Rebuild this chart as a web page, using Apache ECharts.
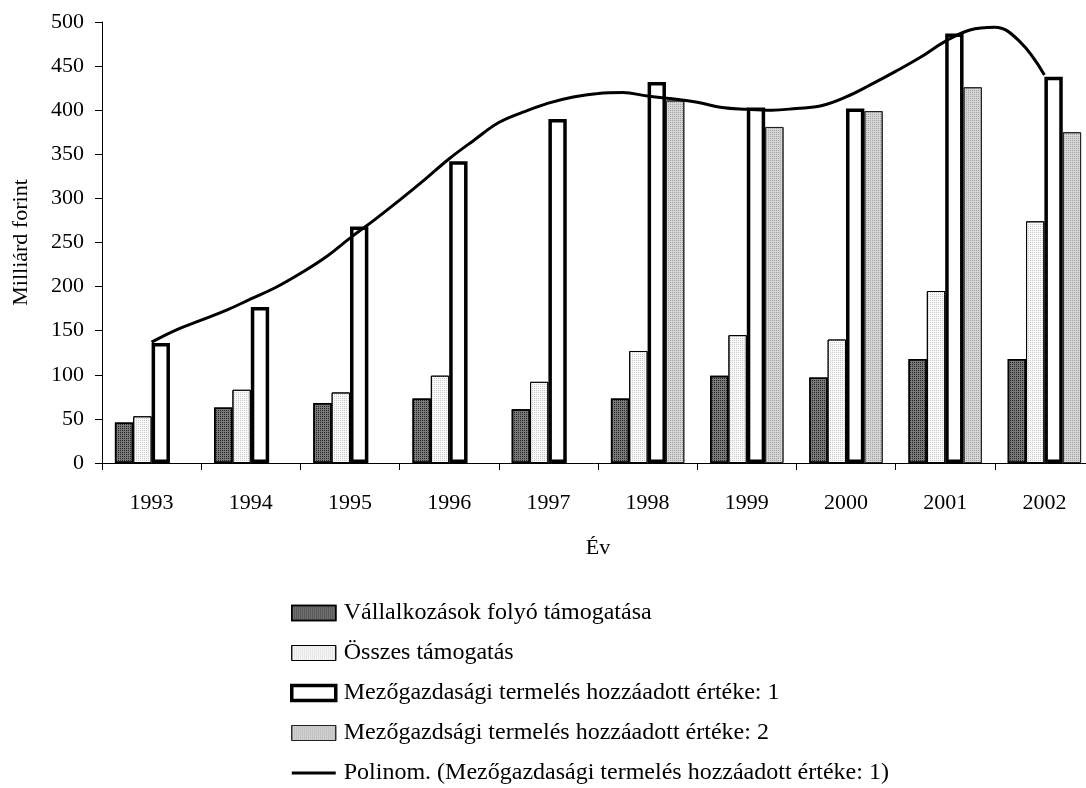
<!DOCTYPE html>
<html>
<head>
<meta charset="utf-8">
<title>Támogatások és mezőgazdasági termelés</title>
<script src="https://cdn.jsdelivr.net/npm/echarts@6/dist/echarts.min.js"></script>
<style>
  html, body { margin: 0; padding: 0; background: #fff; }
  #chart { width: 1086px; height: 788px; }
</style>
</head>
<body>
<div id="chart"></div>
<script>
// evek (kategoriak)
var years = ['1993', '1994', '1995', '1996', '1997', '1998', '1999', '2000', '2001', '2002'];
var yTicks = [0, 50, 100, 150, 200, 250, 300, 350, 400, 450, 500];

// oszlopok, milliard forint
var vallalkozasok = [46, 63, 68, 73, 61, 73, 99, 97, 118, 118];
var osszes = [53, 83, 80, 99, 92, 127, 145, 140, 195, 274];
var termeles1 = [136, 177, 268, 342, 390, 432, 403, 402, 487, 438];
var termeles2 = [null, null, null, null, null, 411, 381, 399, 426, 375];

// polinom trendvonal, leolvasva a kepbol
var trendX = [1993, 1993.25, 1993.5, 1993.75, 1994, 1994.25, 1994.5, 1994.75,
  1995, 1995.25, 1995.5, 1995.75, 1996, 1996.25, 1996.5, 1996.75,
  1997, 1997.25, 1997.5, 1997.75, 1998, 1998.25, 1998.5, 1998.75,
  1999, 1999.25, 1999.5, 1999.75, 2000, 2000.25, 2000.5, 2000.75,
  2001, 2001.25, 2001.5, 2001.75, 2002];
var trendY = [137, 151, 162, 173, 186, 199, 215, 233,
  255, 276, 298, 321, 345, 366, 386, 398,
  408, 415, 419, 420, 416, 413, 409, 403,
  401, 400, 402, 405, 415, 429, 444, 460,
  478, 491, 494, 478, 440];

var names = [
  'Vállalkozások folyó támogatása',
  'Összes támogatás',
  'Mezőgazdasági termelés hozzáadott értéke: 1',
  'Mezőgazdsági termelés hozzáadott értéke: 2',
  'Polinom. (Mezőgazdasági termelés hozzáadott értéke: 1)'
];

var font = 'Liberation Serif';

var myChart = echarts.init(document.getElementById('chart'));

var trendData = [];
for (var i = 0; i < trendX.length; i++) {
  trendData.push([trendX[i], trendY[i]]);
}

// pontozott mintazat az oszlopokhoz
function dots(color) {
  return {
    symbol: 'rect',
    symbolSize: 1,
    color: color,
    dashArrayX: [1, 1],
    dashArrayY: [1, 1],
    rotation: 0
  };
}

var option = {
  animation: false,
  textStyle: { fontFamily: font, color: '#000' },
  grid: {
    left: 102,
    right: -8,
    top: 22,
    bottom: 325,
    containLabel: false,
    outerBoundsMode: 'none'
  },
  legend: {
    orient: 'vertical',
    left: 290,
    top: 601,
    padding: 0,
    height: 187,
    itemWidth: 44,
    itemHeight: 15,
    itemGap: 16,
    textStyle: { fontFamily: font, fontSize: 24, color: '#000', padding: [0, 0, 0, 3] },
    data: [
      { name: names[0], icon: 'rect', itemStyle: { borderWidth: 1.5 } },
      { name: names[1], icon: 'rect', itemStyle: { borderWidth: 1 } },
      { name: names[2], icon: 'rect', itemStyle: { borderWidth: 3.5 } },
      { name: names[3], icon: 'rect', itemStyle: { borderWidth: 1 } },
      { name: names[4], icon: 'path://M0,0 L44,0 L44,3 L0,3 Z' }
    ]
  },
  xAxis: [{
    type: 'category',
    data: years,
    name: 'Év',
    nameLocation: 'middle',
    nameGap: 74,
    nameTextStyle: { fontFamily: font, fontSize: 22, color: '#000' },
    axisLine: { lineStyle: { color: '#000', width: 1 } },
    axisTick: { show: true, length: 7, lineStyle: { color: '#000' } },
    axisLabel: { fontFamily: font, fontSize: 22, color: '#000', margin: 29 },
    splitLine: { show: false }
  }, {
    type: 'value',
    min: 1992.5,
    max: 2002.5,
    show: false
  }],
  yAxis: {
    type: 'value',
    min: yTicks[0],
    max: yTicks[yTicks.length - 1],
    interval: 50,
    name: 'Milliárd forint',
    nameLocation: 'middle',
    nameRotate: 90,
    nameGap: 70,
    nameTextStyle: { fontFamily: font, fontSize: 22, color: '#000' },
    axisLine: { show: true, lineStyle: { color: '#000', width: 1 } },
    axisTick: { show: true, length: 7, lineStyle: { color: '#000' } },
    axisLabel: { fontFamily: font, fontSize: 22, color: '#000', margin: 18 },
    splitLine: { show: false }
  },
  series: [{
    name: names[0],
    type: 'bar',
    data: vallalkozasok,
    barGap: '0%',
    barCategoryGap: '26%',
    itemStyle: { color: '#7a7a7a', borderColor: '#000', borderWidth: 1.5, decal: dots('#262626') }
  }, {
    name: names[1],
    type: 'bar',
    data: osszes,
    itemStyle: { color: '#fafafa', borderColor: '#000', borderWidth: 1, decal: dots('#c8c8c8') }
  }, {
    name: names[2],
    type: 'bar',
    data: termeles1,
    itemStyle: { color: '#fff', borderColor: '#000', borderWidth: 3.5 }
  }, {
    name: names[3],
    type: 'bar',
    data: termeles2,
    itemStyle: { color: '#d6d6d6', borderColor: '#222', borderWidth: 1, decal: dots('#a0a0a0') }
  }, {
    name: names[4],
    type: 'line',
    xAxisIndex: 1,
    data: trendData,
    smooth: 0.4,
    symbol: 'none',
    z: 5,
    lineStyle: { color: '#000', width: 3 },
    itemStyle: { color: '#000' }
  }]
};

myChart.setOption(option);
</script>
</body>
</html>
